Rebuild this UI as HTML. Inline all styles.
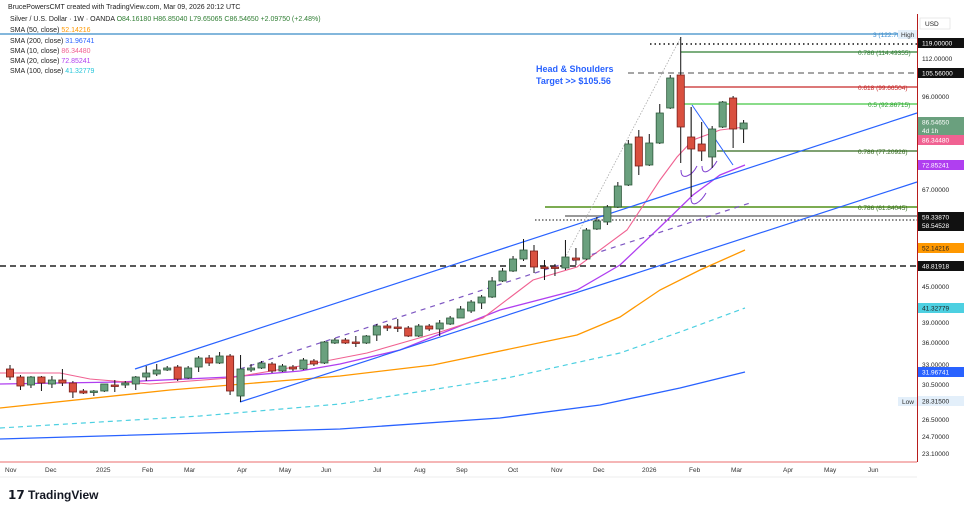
<!DOCTYPE html>
<html><head><meta charset="utf-8"><style>
html,body{margin:0;padding:0;background:#fff;width:964px;height:512px;overflow:hidden}
svg{display:block;font-family:"Liberation Sans",sans-serif}
</style></head><body>
<svg id="s" width="964" height="512" viewBox="0 0 964 512" xmlns="http://www.w3.org/2000/svg">
<rect width="964" height="512" fill="#fff"/>
<g id="bg"></g>
<!-- horizontal levels -->
<line x1="0" y1="34" x2="917" y2="34" stroke="#5a9fd0" stroke-width="1.5"/>
<line x1="650" y1="44" x2="917" y2="44" stroke="#111" stroke-width="1.5" stroke-dasharray="1.5,3"/>
<line x1="681" y1="52" x2="917" y2="52" stroke="#2e7d32" stroke-width="1.2"/>
<line x1="628" y1="73" x2="917" y2="73" stroke="#888" stroke-width="1.5" stroke-dasharray="6,4"/>
<line x1="681" y1="87" x2="917" y2="87" stroke="#c62828" stroke-width="1.2"/>
<line x1="681" y1="104" x2="917" y2="104" stroke="#43c843" stroke-width="1.2"/>
<line x1="717" y1="151" x2="917" y2="151" stroke="#33691e" stroke-width="1.2"/>
<line x1="545" y1="207" x2="917" y2="207" stroke="#6aa03a" stroke-width="1.8"/>
<line x1="565" y1="216" x2="917" y2="216" stroke="#999" stroke-width="2"/>
<line x1="535" y1="220" x2="917" y2="220" stroke="#111" stroke-width="1" stroke-dasharray="1.5,2"/>
<line x1="0" y1="266" x2="917" y2="266" stroke="#222" stroke-width="1.5" stroke-dasharray="6,4"/>
<line x1="0" y1="462" x2="917" y2="462" stroke="#ef8a8a" stroke-width="1.2"/>
<line x1="565" y1="258" x2="681" y2="37" stroke="#aaa" stroke-width="0.8" stroke-dasharray="1.5,1.5"/>
<!-- fib labels -->
<g font-size="6.5">
<text x="873" y="37" fill="#3a8cd0">3 (122.78</text>
<rect x="898" y="30" width="19" height="9" fill="#e3effa"/><text x="901" y="37" fill="#333">High</text>
<text x="858" y="55" fill="#2e7d32">0.786 (114.49355)</text>
<text x="858" y="90" fill="#c62828">0.618 (99.66504)</text>
<text x="868" y="107" fill="#2e9d32">0.5 (92.86715)</text>
<text x="858" y="154" fill="#33691e">0.786 (77.20926)</text>
<text x="858" y="210" fill="#33691e">0.786 (61.84045)</text>
<rect x="898" y="397" width="19" height="9" fill="#e3effa"/><text x="902" y="404" fill="#333">Low</text>
</g>
<g id="ma"></g>
<!-- trend lines -->
<line x1="135" y1="369" x2="917" y2="113" stroke="#2962ff" stroke-width="1.2"/>
<line x1="240" y1="402" x2="917" y2="182" stroke="#2962ff" stroke-width="1.2"/>
<line x1="240" y1="369" x2="753" y2="202" stroke="#7e57c2" stroke-width="1.2" stroke-dasharray="5,5"/>
<line x1="692" y1="105" x2="733" y2="165" stroke="#2962ff" stroke-width="1"/>
<line x1="691" y1="107" x2="691" y2="197" stroke="#888" stroke-width="1"/>
<g fill="none" stroke="#7e3fd0" stroke-width="1">
<path d="M681,170 q0,8 6,6 q6,-2 10,-10"/>
<path d="M702,166 q0,8 6,5 q5,-3 9,-10"/>
<path d="M691,198 q0,8 6,5 q5,-3 9,-10"/>
</g>
<g id="cd"></g>
<!-- header -->
<g font-size="7" fill="#222">
<text x="8" y="9">BrucePowersCMT created with TradingView.com, Mar 09, 2026 20:12 UTC</text>
<text x="10" y="21">Silver / U.S. Dollar · 1W · OANDA <tspan fill="#2e7d32">O84.16180 H86.85040 L79.65065 C86.54650 +2.09750 (+2.48%)</tspan></text>
<text x="10" y="32">SMA (50, close) <tspan fill="#ff9800">52.14216</tspan></text>
<text x="10" y="43">SMA (200, close) <tspan fill="#2962ff">31.96741</tspan></text>
<text x="10" y="53">SMA (10, close) <tspan fill="#f06292">86.34480</tspan></text>
<text x="10" y="63">SMA (20, close) <tspan fill="#b03ff0">72.85241</tspan></text>
<text x="10" y="73">SMA (100, close) <tspan fill="#26c6da">41.32779</tspan></text>
</g>
<text x="536" y="72" font-size="9" font-weight="bold" fill="#2962ff">Head &amp; Shoulders</text>
<text x="536" y="84" font-size="9" font-weight="bold" fill="#2962ff">Target &gt;&gt; $105.56</text>
<!-- right axis -->
<rect x="917" y="14" width="47" height="452" fill="#fff"/>
<line x1="917.5" y1="14" x2="917.5" y2="462" stroke="#b71c1c" stroke-width="1"/>
<rect x="920" y="18" width="30" height="11" fill="#fff" stroke="#ddd" stroke-width="0.6"/>
<g font-size="6.5" fill="#222" id="ax">
<text x="925" y="26">USD</text>
</g>
<!-- time axis -->
<g font-size="6.5" fill="#333" id="tx"></g>
<line x1="0" y1="477" x2="917" y2="477" stroke="#eee"/>
<text x="8" y="499" font-size="12" font-weight="bold" fill="#131722">𝟭𝟳 TradingView</text>
</svg>
<script>
var NS="http://www.w3.org/2000/svg";
function el(p,t,a,txt){var e=document.createElementNS(NS,t);for(var k in a)e.setAttribute(k,a[k]);if(txt!=null)e.textContent=txt;document.getElementById(p).appendChild(e);return e;}
// candles [O,H,L,C] in y px
var C=[[369,365,380,377],[377,375,390,386],[385,376,388,377],[377,376,391,383],[384,376,388,380],[380,369,386,383],[383,381,398,392],[391,389,394,393],[392,390,396,391],[391,386,392,384],[385,380,392,385],[385,381,388,383],[384,376,390,377],[377,366,381,373],[374,364,376,370],[370,366,371,368],[367,365,381,379],[378,366,379,368],[367,356,372,358],[358,355,366,363],[363,352,364,356],[356,354,395,391],[396,355,402,369],[370,364,372,368],[368,361,369,363],[364,362,373,371],[371,364,372,366],[367,365,371,369],[369,358,370,360],[361,359,366,364],[363,341,364,342],[343,338,344,340],[340,338,344,343],[342,336,347,342],[343,335,344,336],[335,324,341,326],[326,324,331,328],[327,319,332,327],[328,326,337,336],[336,324,337,326],[326,324,331,329],[329,320,336,323],[324,316,325,318],[318,306,318,309],[311,300,313,302],[303,295,309,297],[297,277,298,281],[281,268,282,271],[271,256,272,259],[259,239,261,250],[251,245,273,267],[267,260,280,267],[267,264,276,268],[268,240,270,257],[258,248,265,260],[259,228,260,230],[229,217,230,221],[222,205,225,207],[207,182,208,186],[185,140,186,144],[137,130,175,166],[165,134,166,143],[143,104,144,113],[108,75,109,78],[75,37,163,127],[137,107,197,149],[144,122,161,151],[157,126,168,129],[127,101,128,102],[98,96,148,129],[129,120,143,123]];
for(var i=0;i<C.length;i++){var c=C[i],x=10+10.48*i,up=c[3]<c[0];
el("cd","line",{x1:x,x2:x,y1:c[1],y2:c[2],stroke:"#111","stroke-width":1});
var t=Math.min(c[0],c[3]),h=Math.max(1.5,Math.abs(c[3]-c[0]));
el("cd","rect",{x:x-3.6,y:t,width:7.2,height:h,fill:up?"#6aa07e":"#d9503f",stroke:up?"#2f5a3c":"#7a1f1a","stroke-width":0.8});}
function pl(pts,col,w,da){var d="M"+pts.map(function(p){return p.join(",")}).join(" L");var a={d:d,fill:"none",stroke:col,"stroke-width":w};if(da)a["stroke-dasharray"]=da;el("ma","path",a);}
pl([[0,439],[340,429],[500,418],[600,405],[680,388],[745,372]],"#2962ff",1.3);
pl([[0,428],[200,416],[340,404],[507,378],[620,353],[680,332],[745,308]],"#4dd0e1",1.2,"5,4");
pl([[0,408],[170,390],[340,376],[433,365],[577,335],[620,317],[660,290],[700,270],[745,250]],"#ff9800",1.3);
pl([[0,384],[120,382],[230,377],[300,371],[340,364],[400,350],[450,330],[500,310],[577,290],[620,265],[658,229],[693,195],[720,175],[745,165]],"#b03ff0",1.3);
pl([[0,373],[60,373],[90,379],[150,384],[230,378],[300,366],[367,353],[440,332],[483,318],[533,280],[577,267],[627,230],[660,180],[677,157],[693,140],[720,130],[745,127]],"#f06292",1.1);
// axis ticks
[["112.00000",61],["96.00000",99],["67.00000",192],["45.00000",289],["39.00000",325],["36.00000",345],["33.00000",367],["30.50000",387],["26.50000",422],["24.70000",439],["23.10000",456]].forEach(function(t){el("ax","text",{x:922,y:t[1]},t[0]);});
function box(y,h,col,txt,fc,t2){el("ax","rect",{x:918,y:y,width:46,height:h,fill:col});el("ax","text",{x:922,y:y+7.5,fill:fc||"#fff"},txt);if(t2)el("ax","text",{x:922,y:y+16,fill:"#fff"},t2);}
box(38,10,"#111","119.00000");box(68,10,"#111","105.56000");box(117,18,"#6aa07e","86.54650",null,"4d 1h");box(135,10,"#f06292","86.34480");box(160,10,"#b03ff0","72.85241");
box(212,19,"#111","59.33870",null,"58.54528");box(243,10,"#ff9800","52.14216","#222");box(261,10,"#111","48.81918");box(303,10,"#4dd0e1","41.32779","#222");box(367,10,"#2962ff","31.96741");box(396,10,"#e3effa","28.31500","#222");
[["Nov",5],["Dec",45],["2025",96],["Feb",142],["Mar",184],["Apr",237],["May",279],["Jun",321],["Jul",373],["Aug",414],["Sep",456],["Oct",508],["Nov",551],["Dec",593],["2026",642],["Feb",689],["Mar",731],["Apr",783],["May",824],["Jun",868]].forEach(function(t){el("tx","text",{x:t[1],y:472},t[0]);});
</script>
</body></html>
